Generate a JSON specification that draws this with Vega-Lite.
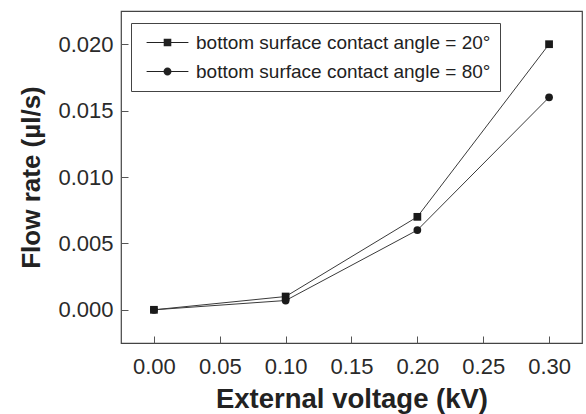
{
  "$schema": "https://vega.github.io/schema/vega-lite/v6.json",
  "width": 461,
  "height": 332,
  "autosize": {"type": "none"},
  "padding": {"left": 121, "top": 11, "right": 4, "bottom": 71},
  "background": "white",
  "config": {
    "view": {"stroke": "#444", "strokeWidth": 1.2},
    "font": "Liberation Sans",
    "axis": {
      "grid": false,
      "domain": false,
      "labelFont": "Liberation Sans",
      "labelFontSize": 22,
      "labelColor": "#2a2a2a",
      "tickColor": "#555",
      "tickSize": -7,
      "titleFont": "Liberation Sans",
      "titleFontWeight": "bold",
      "titleColor": "#222"
    }
  },
  "data": {
    "values": [
      {"voltage": 0.0, "flow": 0.0, "series": "bottom surface contact angle = 20°"},
      {"voltage": 0.1, "flow": 0.001, "series": "bottom surface contact angle = 20°"},
      {"voltage": 0.2, "flow": 0.007, "series": "bottom surface contact angle = 20°"},
      {"voltage": 0.3, "flow": 0.020, "series": "bottom surface contact angle = 20°"},
      {"voltage": 0.0, "flow": 0.0, "series": "bottom surface contact angle = 80°"},
      {"voltage": 0.1, "flow": 0.0007, "series": "bottom surface contact angle = 80°"},
      {"voltage": 0.2, "flow": 0.006, "series": "bottom surface contact angle = 80°"},
      {"voltage": 0.3, "flow": 0.016, "series": "bottom surface contact angle = 80°"}
    ]
  },
  "encoding": {
    "x": {
      "field": "voltage",
      "type": "quantitative",
      "scale": {"domain": [-0.025, 0.325], "nice": false, "zero": false},
      "axis": {
        "values": [0, 0.05, 0.1, 0.15, 0.2, 0.25, 0.3],
        "format": ".2f",
        "labelPadding": 20,
        "title": "External voltage (kV)",
        "titleFontSize": 27.5,
        "titlePadding": 8
      }
    },
    "y": {
      "field": "flow",
      "type": "quantitative",
      "scale": {"domain": [-0.0025, 0.0225], "nice": false, "zero": false},
      "axis": {
        "values": [0, 0.005, 0.01, 0.015, 0.02],
        "format": ".3f",
        "labelPadding": 15,
        "title": "Flow rate (µl/s)",
        "titleFontSize": 26,
        "titlePadding": 13
      }
    }
  },
  "layer": [
    {
      "mark": {"type": "line", "color": "#3a3a3a", "strokeWidth": 1},
      "encoding": {"detail": {"field": "series"}}
    },
    {
      "mark": {"type": "point", "filled": true, "color": "#1a1a1a", "opacity": 1, "size": 60},
      "encoding": {
        "shape": {
          "condition": {"test": "datum.series == 'bottom surface contact angle = 20°'", "value": "square"},
          "value": "circle"
        }
      }
    },
    {
      "transform": [{"filter": "false"}],
      "mark": {"type": "point", "filled": true, "color": "#222", "opacity": 1},
      "encoding": {
        "shape": {
          "field": "series",
          "type": "nominal",
          "scale": {
            "domain": ["bottom surface contact angle = 20°", "bottom surface contact angle = 80°"],
            "range": [
              "M-2.2,-0.05H2.2V0.05H-2.2Z M-0.4,-0.4H0.4V0.4H-0.4Z",
              "M-2.2,-0.05H2.2V0.05H-2.2Z M-0.42,0A0.42,0.42 0 1,1 0.42,0A0.42,0.42 0 1,1 -0.42,0Z"
            ]
          },
          "legend": {
            "title": null,
            "orient": "none",
            "legendX": 10,
            "legendY": 12,
            "padding": 9,
            "strokeColor": "#444",
            "fillColor": "white",
            "symbolSize": 361,
            "symbolOffset": 17,
            "labelOffset": 18,
            "labelLimit": 0,
            "rowPadding": 8,
            "labelFont": "Liberation Sans",
            "labelFontSize": 19,
            "labelColor": "#222"
          }
        }
      }
    }
  ]
}
